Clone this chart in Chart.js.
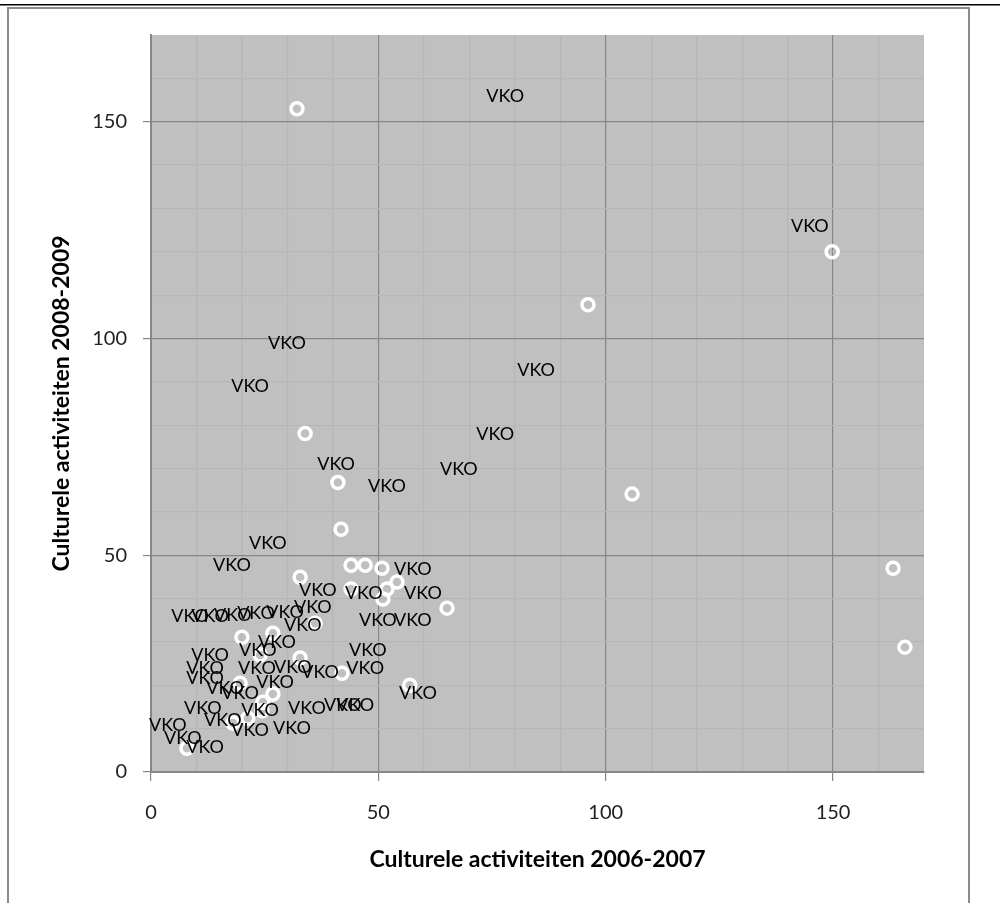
<!DOCTYPE html>
<html>
<head>
<meta charset="utf-8">
<script src="https://cdn.jsdelivr.net/npm/chart.js@4.4.0/dist/chart.umd.min.js"></script>
<style>
  html, body { margin: 0; padding: 0; background: #fff; }
  #wrap { width: 1000px; height: 903px; }
</style>
</head>
<body>
<div id="wrap"><canvas id="chart" width="1000" height="903"></canvas></div>
<script>
// points drawn as white rings
const circleX = [32.1, 96.1, 149.8, 33.9, 41.1, 41.8, 105.8, 163.2, 165.8, 32.8,
                 44.0, 47.1, 50.8, 54.1, 51.9, 51.0, 44.0, 65.1, 36.1, 26.8,
                 20.0, 24.0, 32.8, 42.0, 56.9, 26.8, 24.4, 21.3, 18.0, 7.9,
                 24.6, 19.6];
const circleY = [153.0, 107.8, 120.0, 78.1, 66.8, 56.0, 64.1, 47.0, 28.8, 44.9,
                 47.7, 47.7, 47.0, 43.8, 42.2, 39.9, 42.2, 37.8, 34.3, 32.0,
                 31.1, 27.0, 26.3, 22.8, 20.0, 18.0, 14.1, 12.4, 11.3, 5.5,
                 16.1, 20.5];

// points shown only by their "VKO" label
const vkoX = [77.9, 144.9, 29.9, 21.8, 84.7, 75.7, 67.7, 40.7, 51.9, 25.7,
              17.8, 57.6, 36.7, 46.8, 59.8, 35.6, 49.9, 57.6, 8.6, 13.0,
              18.0, 23.1, 29.5, 33.4, 27.7, 23.5, 47.7, 13.0, 11.9, 11.9,
              23.3, 31.2, 37.2, 47.1, 27.3, 58.7, 16.3, 19.6, 11.4, 15.8,
              21.8, 34.3, 42.2, 44.9, 31.0, 3.7, 7.0, 11.9, 24.0];
const vkoY = [156.0, 125.8, 98.8, 88.9, 92.6, 77.9, 69.8, 71.0, 65.9, 52.8,
              47.7, 46.8, 41.9, 41.2, 41.2, 38.0, 35.0, 35.0, 35.9, 35.9,
              36.2, 36.6, 36.9, 33.9, 30.0, 28.1, 28.1, 27.0, 24.0, 21.7,
              24.0, 24.2, 23.0, 24.0, 20.7, 18.2, 19.4, 18.2, 14.7, 12.0,
              9.7, 14.7, 15.4, 15.4, 10.1, 10.8, 7.8, 5.8, 14.3];
const vkoLabel = 'VKO';

const xTitle = 'Culturele activiteiten 2006-2007';
const yTitle = 'Culturele activiteiten 2008-2009';
const axisMax = 170;
const majorStep = 50;

const FONT = 'Lato, "Open Sans", sans-serif';
const MAJOR = '#878787';
const MINOR = '#b6b6b6';

function gridColor(ctx) {
    const v = ctx.tick.value;
    if (v === axisMax) return 'rgba(0,0,0,0)';
    return v % majorStep === 0 ? MAJOR : MINOR;
}
function tickMarkColor(ctx) {
    return ctx.tick.value % majorStep === 0 ? MAJOR : 'rgba(0,0,0,0)';
}
function tickText(v) {
    return v % majorStep === 0 ? String(v) : '';
}

// background, outer frame and gray plot area
const framePlugin = {
    id: 'frame',
    beforeDraw(chart) {
        const c = chart.ctx;
        const a = chart.chartArea;
        c.save();
        c.fillStyle = '#fff';
        c.fillRect(0, 0, chart.width, chart.height);
        c.fillStyle = '#000';
        c.fillRect(0, 4, chart.width, 1.5);
        c.strokeStyle = '#8c8c8c';
        c.lineWidth = 2;
        c.strokeRect(8, 8, 961, chart.height + 10);
        c.fillStyle = '#c0c0c0';
        c.fillRect(a.left, a.top, a.right - a.left, a.bottom - a.top);
        c.restore();
    }
};

// "VKO" text at each point of the second series
const labelPlugin = {
    id: 'vkoLabels',
    afterDatasetsDraw(chart) {
        const meta = chart.getDatasetMeta(1);
        const c = chart.ctx;
        c.save();
        c.font = '18px ' + FONT;
        c.fillStyle = '#000';
        c.textAlign = 'center';
        c.textBaseline = 'middle';
        meta.data.forEach(pt => c.fillText(vkoLabel, pt.x, pt.y));
        c.restore();
    }
};

const ctx = document.getElementById('chart').getContext('2d');

const myChart = new Chart(ctx, {
    type: 'scatter',
    data: {
        datasets: [
            {
                label: 'scholen',
                data: circleX.map((x, i) => ({ x: x, y: circleY[i] })),
                pointStyle: 'circle',
                pointRadius: 6,
                pointBorderWidth: 3.5,
                pointBorderColor: '#fff',
                pointBackgroundColor: 'rgba(0,0,0,0)'
            },
            {
                label: vkoLabel,
                data: vkoX.map((x, i) => ({ x: x, y: vkoY[i] })),
                pointRadius: 0
            }
        ]
    },
    options: {
        responsive: false,
        animation: false,
        layout: { padding: { top: 35, right: 76, left: 0, bottom: 0 } },
        plugins: {
            legend: { display: false },
            tooltip: { enabled: false }
        },
        scales: {
            x: {
                type: 'linear',
                min: 0,
                max: axisMax,
                afterFit(scale) { scale.height = 131; },
                ticks: {
                    stepSize: 10,
                    callback: tickText,
                    color: '#222',
                    padding: 20,
                    maxRotation: 0,
                    autoSkip: false,
                    font: { family: FONT, size: 20 }
                },
                grid: { color: gridColor, tickColor: tickMarkColor, tickLength: 9, lineWidth: 1.2 },
                border: { color: MAJOR, width: 2 },
                title: {
                    display: true,
                    text: xTitle,
                    color: '#000',
                    padding: { top: 0, bottom: 30 },
                    font: { family: FONT, size: 23, weight: 'bold' }
                }
            },
            y: {
                type: 'linear',
                min: 0,
                max: axisMax,
                afterFit(scale) { scale.width = 151; },
                ticks: {
                    stepSize: 10,
                    callback: tickText,
                    color: '#222',
                    padding: 16,
                    autoSkip: false,
                    font: { family: FONT, size: 20 }
                },
                grid: { color: gridColor, tickColor: tickMarkColor, tickLength: 8, lineWidth: 1.2 },
                border: { color: MAJOR, width: 2 },
                title: {
                    display: true,
                    text: yTitle,
                    color: '#000',
                    padding: { top: 48, bottom: 0 },
                    font: { family: FONT, size: 23, weight: 'bold' }
                }
            }
        }
    },
    plugins: [framePlugin, labelPlugin]
});
</script>
</body>
</html>
